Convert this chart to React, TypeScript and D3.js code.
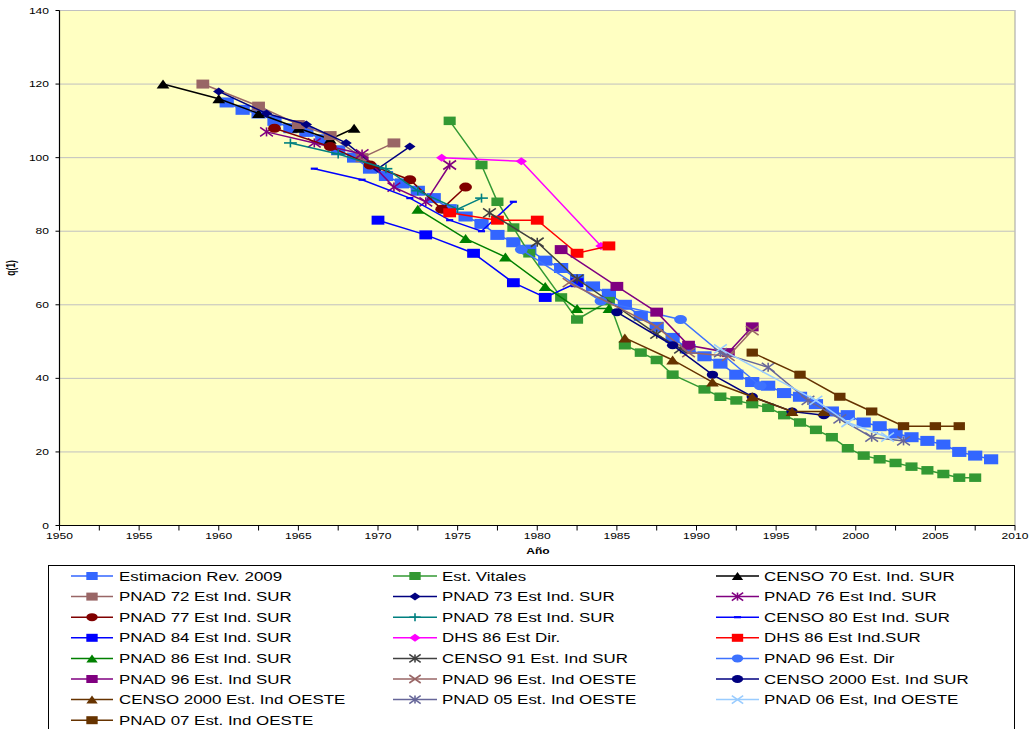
import React from "react";
import * as d3 from "d3";

type Pt = [number, number];

// ---- data (year, value) ----
const estimacion: Pt[] = [
  [1960.5, 115], [1961.5, 113], [1962.5, 112], [1963.5, 110], [1964.5, 108], [1965.5, 107], [1966.5, 105], [1967.5, 102], [1968.5, 100], [1969.5, 97],
  [1970.5, 95], [1971.5, 93], [1972.5, 91], [1973.5, 89], [1974.5, 86], [1975.5, 84], [1976.5, 82], [1977.5, 79], [1978.5, 77], [1979.5, 75],
  [1980.5, 72], [1981.5, 70], [1982.5, 67], [1983.5, 65], [1984.5, 63], [1985.5, 60], [1986.5, 57], [1987.5, 54], [1988.5, 51], [1989.5, 48],
  [1990.5, 46], [1991.5, 44], [1992.5, 41], [1993.5, 39], [1994.5, 38], [1995.5, 36], [1996.5, 35], [1997.5, 33], [1998.5, 31], [1999.5, 30],
  [2000.5, 28], [2001.5, 27], [2002.5, 25], [2003.5, 24], [2004.5, 23], [2005.5, 22], [2006.5, 20], [2007.5, 19], [2008.5, 18],
];
const vitales: Pt[] = [
  [1974.5, 110], [1976.5, 98], [1977.5, 88], [1978.5, 81], [1979.5, 74], [1981.5, 62], [1982.5, 56], [1984.5, 61], [1985.5, 49], [1986.5, 47],
  [1987.5, 45], [1988.5, 41], [1990.5, 37], [1991.5, 35], [1992.5, 34], [1993.5, 33], [1994.5, 32], [1995.5, 30], [1996.5, 28], [1997.5, 26],
  [1998.5, 24], [1999.5, 21], [2000.5, 19], [2001.5, 18], [2002.5, 17], [2003.5, 16], [2004.5, 15], [2005.5, 14], [2006.5, 13], [2007.5, 13],
];
const censo70: Pt[] = [[1956.5, 120], [1960, 116], [1962.5, 112], [1965, 108], [1967, 105], [1968.5, 108]];
const pnad72: Pt[] = [[1959, 120], [1962.5, 114], [1965, 109], [1967, 106], [1969, 100], [1971, 104]];
const pnad73: Pt[] = [[1960, 118], [1963, 112], [1965.5, 109], [1968, 104], [1970, 97], [1972, 103]];
const pnad76: Pt[] = [[1963, 107], [1966, 104], [1969, 101], [1971, 92], [1973, 88], [1974.5, 98]];
const pnad77: Pt[] = [[1963.5, 108], [1967, 103], [1969.5, 98], [1972, 94], [1974, 86], [1975.5, 92]];
const pnad78: Pt[] = [[1964.5, 104], [1967.5, 101], [1970.5, 97], [1972.5, 91], [1975, 86], [1976.5, 89]];
const censo80: Pt[] = [[1966, 97], [1969, 94], [1972, 89], [1974.5, 83], [1976.5, 80], [1978.5, 88]];
const pnad84: Pt[] = [[1970, 83], [1973, 79], [1976, 74], [1978.5, 66], [1980.5, 62], [1982.5, 66]];
const dhs86Dir: Pt[] = [[1974, 100], [1979, 99], [1984, 76]];
const dhs86Ind: Pt[] = [[1974.5, 85], [1977.5, 83], [1980, 83], [1982.5, 74], [1984.5, 76]];
const pnad86: Pt[] = [[1972.5, 86], [1975.5, 78], [1978, 73], [1980.5, 65], [1982.5, 59], [1984.5, 59]];
const censo91: Pt[] = [[1977, 85], [1980, 77], [1982.5, 67], [1987.5, 52], [1989, 48]];
const pnad96Dir: Pt[] = [[1979, 75], [1984, 61], [1989, 56], [1994, 38]];
const pnad96Sur: Pt[] = [[1981.5, 75], [1985, 65], [1987.5, 58], [1989.5, 49], [1992, 47], [1993.5, 54]];
const pnad96Oeste: Pt[] = [[1982, 66], [1987.5, 54], [1989.5, 47], [1992, 46], [1993.5, 53]];
const censo2000Sur: Pt[] = [[1985, 58], [1988.5, 49], [1991, 41], [1993.5, 35], [1996, 31], [1998, 30]];
const censo2000Oeste: Pt[] = [[1985.5, 51], [1988.5, 45], [1991, 39], [1993.5, 35], [1996, 31], [1998, 31]];
const pnad05: Pt[] = [[1991.5, 47], [1994.5, 43], [1997, 34], [1999, 29], [2001, 24], [2003, 23]];
const pnad06: Pt[] = [[1991.5, 48], [1997.5, 34], [1999.5, 28], [2002, 24]];
const pnad07: Pt[] = [[1993.5, 47], [1996.5, 41], [1999, 35], [2001, 31], [2003, 27], [2005, 27], [2006.5, 27]];

const yTicks = [0, 20, 40, 60, 80, 100, 120, 140];
const xLabels = [1950, 1955, 1960, 1965, 1970, 1975, 1980, 1985, 1990, 1995, 2000, 2005, 2010];
const xMinorTicks = [1952.5, 1957.5, 1962.5, 1967.5, 1972.5, 1977.5, 1982.5, 1987.5, 1992.5, 1997.5, 2002.5, 2007.5];

type Marker = "square" | "diamond" | "triangle" | "circle" | "star" | "x" | "plus" | "dash";
interface Series { name: string; data: Pt[]; color: string; marker: Marker; size: number; }

const series: Series[] = [
  { name: "Estimacion Rev. 2009", data: estimacion, color: "#3366FF", marker: "square", size: 10 },
  { name: "Est. Vitales", data: vitales, color: "#339933", marker: "square", size: 8.5 },
  { name: "CENSO 70 Est. Ind. SUR", data: censo70, color: "#000000", marker: "triangle", size: 9 },
  { name: "PNAD 72 Est Ind. SUR", data: pnad72, color: "#996666", marker: "square", size: 9 },
  { name: "PNAD 73 Est Ind. SUR", data: pnad73, color: "#000080", marker: "diamond", size: 8 },
  { name: "PNAD 76 Est Ind. SUR", data: pnad76, color: "#800080", marker: "star", size: 9 },
  { name: "PNAD 77 Est Ind. SUR", data: pnad77, color: "#800000", marker: "circle", size: 9 },
  { name: "PNAD 78 Est Ind. SUR", data: pnad78, color: "#008080", marker: "plus", size: 9 },
  { name: "CENSO 80 Est Ind. SUR", data: censo80, color: "#0000FF", marker: "dash", size: 5 },
  { name: "PNAD 84 Est Ind. SUR", data: pnad84, color: "#0000FF", marker: "square", size: 9 },
  { name: "DHS 86 Est Dir.", data: dhs86Dir, color: "#FF00FF", marker: "diamond", size: 8 },
  { name: "DHS 86 Est Ind.SUR", data: dhs86Ind, color: "#FF0000", marker: "square", size: 9 },
  { name: "PNAD 86 Est Ind. SUR", data: pnad86, color: "#008000", marker: "triangle", size: 9 },
  { name: "CENSO 91 Est. Ind SUR", data: censo91, color: "#404040", marker: "star", size: 9 },
  { name: "PNAD 96 Est. Dir", data: pnad96Dir, color: "#3D72FF", marker: "circle", size: 9 },
  { name: "PNAD 96 Est. Ind SUR", data: pnad96Sur, color: "#800080", marker: "square", size: 9 },
  { name: "PNAD 96 Est. Ind OESTE", data: pnad96Oeste, color: "#996666", marker: "x", size: 9 },
  { name: "CENSO 2000 Est. Ind SUR", data: censo2000Sur, color: "#000080", marker: "circle", size: 8 },
  { name: "CENSO 2000 Est. Ind OESTE", data: censo2000Oeste, color: "#663300", marker: "triangle", size: 9 },
  { name: "PNAD 05 Est. Ind OESTE", data: pnad05, color: "#666699", marker: "star", size: 9 },
  { name: "PNAD 06 Est, Ind OESTE", data: pnad06, color: "#99CCFF", marker: "x", size: 9 },
  { name: "PNAD 07 Est. Ind OESTE", data: pnad07, color: "#663300", marker: "square", size: 8 },
];

const SX = 1.42; // horizontal stretch of the original rendering
const FONT = "'Liberation Sans', Arial, Helvetica, sans-serif";

function MarkerShape({ type, cx, cy, h, color }: { type: Marker; cx: number; cy: number; h: number; color: string }) {
  const w = h * SX;
  const hw = w / 2, hh = h / 2;
  switch (type) {
    case "square":
      return <rect x={cx - hw} y={cy - hh} width={w} height={h} fill={color} />;
    case "diamond":
      return <polygon points={`${cx},${cy - hh} ${cx + hw},${cy} ${cx},${cy + hh} ${cx - hw},${cy}`} fill={color} />;
    case "triangle":
      return <polygon points={`${cx},${cy - hh} ${cx + hw},${cy + hh} ${cx - hw},${cy + hh}`} fill={color} />;
    case "circle":
      return <ellipse cx={cx} cy={cy} rx={hw} ry={hh} fill={color} />;
    case "star":
      return (
        <g stroke={color} strokeWidth={1.6}>
          <line x1={cx - hw} y1={cy - hh} x2={cx + hw} y2={cy + hh} />
          <line x1={cx - hw} y1={cy + hh} x2={cx + hw} y2={cy - hh} />
          <line x1={cx} y1={cy - hh} x2={cx} y2={cy + hh} />
        </g>
      );
    case "x":
      return (
        <g stroke={color} strokeWidth={1.6}>
          <line x1={cx - hw} y1={cy - hh} x2={cx + hw} y2={cy + hh} />
          <line x1={cx - hw} y1={cy + hh} x2={cx + hw} y2={cy - hh} />
        </g>
      );
    case "plus":
      return (
        <g stroke={color} strokeWidth={1.6}>
          <line x1={cx - hw} y1={cy} x2={cx + hw} y2={cy} />
          <line x1={cx} y1={cy - hh} x2={cx} y2={cy + hh} />
        </g>
      );
    case "dash":
      return <line x1={cx - hw} y1={cy} x2={cx + hw} y2={cy} stroke={color} strokeWidth={2.2} />;
  }
  return null;
}

function SText({ x, y, size, anchor = "start", weight = "normal", children }: any) {
  return (
    <text
      transform={`translate(${x},${y}) scale(${SX},1)`}
      fontSize={size}
      fontFamily={FONT}
      textAnchor={anchor}
      fontWeight={weight}
      fill="#000"
    >
      {children}
    </text>
  );
}

export default function App() {
  const left = 59.5, right = 1015, top = 10.5, bottom = 525.5;
  const x = d3.scaleLinear().domain([1950, 2010]).range([left, right]);
  const y = d3.scaleLinear().domain([0, 140]).range([bottom, top]);
  const line = d3.line<Pt>().x((d) => x(d[0])).y((d) => y(d[1]));

  const legendCols = [
    { lineX1: 71, lineX2: 113, textX: 119 },
    { lineX1: 393, lineX2: 437, textX: 442 },
    { lineX1: 716, lineX2: 759, textX: 764 },
  ];
  const legendRowY = (r: number) => 576 + r * 20.6;

  return (
    <svg
      width={1030}
      height={729}
      style={{ position: "absolute", left: 0, top: 0, background: "#fff" }}
      xmlns="http://www.w3.org/2000/svg"
    >
      <rect x={0} y={0} width={1030} height={729} fill="#fff" />
      {/* plot area */}
      <rect x={left} y={top} width={right - left} height={bottom - top} fill="#FFFFC2" stroke="#A0A0A0" strokeWidth={1} />
      {yTicks.filter((t) => t > 0).map((t) => (
        <line key={"g" + t} x1={left} x2={right} y1={y(t)} y2={y(t)} stroke="#C0C0C0" strokeWidth={1} />
      ))}
      {/* axes */}
      <line x1={left} x2={left} y1={top} y2={bottom} stroke="#000" strokeWidth={1.2} />
      <line x1={left} x2={right} y1={bottom} y2={bottom} stroke="#000" strokeWidth={1.2} />
      {yTicks.map((t) => (
        <g key={"yt" + t}>
          <line x1={left - 4} x2={left} y1={y(t)} y2={y(t)} stroke="#000" />
          <SText x={49} y={y(t) + 3} size={8.5} anchor="end">{t}</SText>
        </g>
      ))}
      {xLabels.map((t) => (
        <g key={"xt" + t}>
          <line x1={x(t)} x2={x(t)} y1={bottom} y2={bottom + 5} stroke="#000" />
          <SText x={x(t)} y={539} size={8.5} anchor="middle">{t}</SText>
        </g>
      ))}
      {xMinorTicks.map((t) => (
        <line key={"xm" + t} x1={x(t)} x2={x(t)} y1={bottom} y2={bottom + 5} stroke="#000" />
      ))}
      <SText x={538} y={554} size={8.5} anchor="middle" weight="bold">Año</SText>
      <text
        transform={`translate(15,268) rotate(-90) scale(1,${SX})`}
        fontSize={8.5}
        fontFamily={FONT}
        textAnchor="middle"
        fontWeight="bold"
      >
        q(1)
      </text>

      {/* series */}
      {series.map((s) => (
        <g key={s.name}>
          <path d={line(s.data) || ""} fill="none" stroke={s.color} strokeWidth={1.5} />
          {s.data.map((d, i) => (
            <MarkerShape key={i} type={s.marker} cx={x(d[0])} cy={y(d[1])} h={s.size} color={s.color} />
          ))}
        </g>
      ))}

      {/* legend */}
      <rect x={48.5} y={565.5} width={966} height={200} fill="#fff" stroke="#000" strokeWidth={1} />
      {series.map((s, i) => {
        const col = legendCols[i % 3];
        const row = Math.floor(i / 3);
        const cy = legendRowY(row);
        const mx = (col.lineX1 + col.lineX2) / 2;
        return (
          <g key={"lg" + s.name}>
            <line x1={col.lineX1} x2={col.lineX2} y1={cy} y2={cy} stroke={s.color} strokeWidth={1.5} />
            <MarkerShape type={s.marker} cx={mx} cy={cy} h={Math.min(s.size, 8)} color={s.color} />
            <SText x={col.textX} y={cy + 4.5} size={11.9}>{s.name}</SText>
          </g>
        );
      })}
    </svg>
  );
}
